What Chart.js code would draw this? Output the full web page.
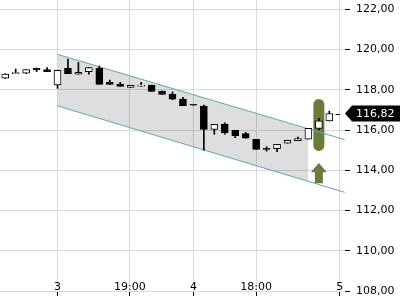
<!DOCTYPE html>
<html>
<head>
<meta charset="utf-8">
<script src="https://cdn.jsdelivr.net/npm/chart.js@4.4.0/dist/chart.umd.min.js"></script>
<style>
  html, body { margin: 0; padding: 0; background: #fff; }
  #wrap { width: 400px; height: 300px; }
</style>
</head>
<body>
<div id="wrap"><canvas id="chart"></canvas></div>
<script>
// ===============================
// Dados (velas horárias)
// ===============================
const opens  = [118.58, 118.80, 118.82, 119.07, 119.00, 118.24, 119.07, 118.77, 118.90, 119.07,
                118.37, 118.28, 118.12, 118.18, 118.23, 117.94, 117.79, 117.54, 117.25, 117.19,
                116.03, 116.30, 115.98, 115.82, 115.54, 115.06, 115.07, 115.34, 115.47, 115.55,
                116.08, 116.45];
const highs  = [118.80, 119.03, 119.00, 119.08, 119.10, 118.97, 119.53, 119.36, 119.10, 119.18,
                118.48, 118.37, 118.22, 118.37, 118.23, 117.94, 117.89, 117.62, 117.25, 117.24,
                116.28, 116.36, 115.98, 115.88, 115.54, 115.17, 115.29, 115.49, 115.65, 116.08,
                116.58, 116.94];
const lows   = [118.55, 118.80, 118.80, 118.90, 118.90, 118.07, 118.80, 118.77, 118.78, 118.27,
                118.27, 118.17, 118.12, 118.16, 117.92, 117.77, 117.50, 117.21, 117.23, 115.00,
                115.79, 115.79, 115.62, 115.59, 115.04, 114.95, 114.92, 115.34, 115.47, 115.55,
                116.00, 116.45];
const closes = [118.78, 118.84, 119.00, 118.99, 118.90, 118.97, 118.80, 118.87, 119.10, 118.27,
                118.27, 118.17, 118.22, 118.20, 117.92, 117.77, 117.53, 117.21, 117.23, 116.03,
                116.28, 115.86, 115.72, 115.59, 115.04, 115.04, 115.29, 115.49, 115.57, 116.08,
                116.45, 116.82];

// eixo x (posição em velas) e eixo y
const xTickPos    = [5, 11.93, 18, 24, 32];
const xTickLabels = ["3", "19:00", "4", "18:00", "5"];
const yTicks      = [108, 110, 112, 114, 116, 118, 120, 122];

// canal de tendência
const channelX     = [5, 32.48];
const channelUpper = [119.76, 115.52];
const channelLower = [117.20, 112.90];
const shadeX       = [5, 29];
const shadeUpper   = [119.76, 116.05];
const shadeLower   = [117.20, 113.44];

// sinal / último preço
const lastPrice   = 116.82;
const signalX     = 30;
const pillTop     = 117.54;
const pillBottom  = 114.96;
const arrowTop    = 114.36;
const arrowNeck   = 113.90;
const arrowBottom = 113.36;

const fmt = v => v.toFixed(2).replace(".", ",");

// ===============================
// Plugin: marcações extras
// ===============================
const overlayPlugin = {
  id: "overlay",
  beforeDatasetsDraw(chart) {
    const { ctx } = chart;
    const x = chart.scales.x, y = chart.scales.y;
    const cx = x.getPixelForValue(signalX);

    // pílula verde
    const top = y.getPixelForValue(pillTop);
    const bot = y.getPixelForValue(pillBottom);
    ctx.save();
    ctx.fillStyle = "#6a7b3b";
    ctx.beginPath();
    ctx.roundRect(cx - 5.5, top, 11, bot - top, 5.5);
    ctx.fill();

    // seta para cima
    const aTop = y.getPixelForValue(arrowTop);
    const aNeck = y.getPixelForValue(arrowNeck);
    const aBot = y.getPixelForValue(arrowBottom);
    ctx.beginPath();
    ctx.moveTo(cx, aTop);
    ctx.lineTo(cx + 8, aNeck);
    ctx.lineTo(cx + 4, aNeck);
    ctx.lineTo(cx + 4, aBot);
    ctx.lineTo(cx - 4, aBot);
    ctx.lineTo(cx - 4, aNeck);
    ctx.lineTo(cx - 8, aNeck);
    ctx.closePath();
    ctx.fill();
    ctx.restore();
  },
  afterDraw(chart) {
    const { ctx, chartArea } = chart;
    const x = chart.scales.x, y = chart.scales.y;
    const py = y.getPixelForValue(lastPrice);
    const left = chartArea.right;
    ctx.save();
    // traço do último preço
    ctx.strokeStyle = "#000";
    ctx.lineWidth = 1;
    ctx.beginPath();
    ctx.moveTo(x.getPixelForValue(closes.length - 0.4), Math.round(py) + 0.5);
    ctx.lineTo(x.getPixelForValue(closes.length), Math.round(py) + 0.5);
    ctx.stroke();
    // etiqueta
    ctx.fillStyle = "#000";
    ctx.beginPath();
    ctx.moveTo(left, py);
    ctx.lineTo(left + 7, py - 8);
    ctx.lineTo(chart.width, py - 8);
    ctx.lineTo(chart.width, py + 8);
    ctx.lineTo(left + 7, py + 8);
    ctx.closePath();
    ctx.fill();
    ctx.fillStyle = "#fff";
    ctx.font = "11px 'DejaVu Sans'";
    ctx.textBaseline = "middle";
    ctx.textAlign = "left";
    ctx.fillText(fmt(lastPrice), left + 11, py + 0.5);
    ctx.restore();
  }
};

// ===============================
// Gráfico
// ===============================
Chart.defaults.font.family = "'DejaVu Sans', sans-serif";
Chart.defaults.font.size = 11;
Chart.defaults.color = "#000";

const bodyColors = opens.map((o, i) => (closes[i] >= o ? "#fff" : "#000"));

new Chart(document.getElementById("chart"), {
  type: "bar",
  data: {
    datasets: [
      {
        label: "corpo",
        data: opens.map((o, i) => ({ x: i, y: [o, closes[i]] })),
        backgroundColor: bodyColors,
        borderColor: "#000",
        borderWidth: 1,
        borderSkipped: false,
        barThickness: 7,
        minBarLength: 1,
        grouped: false,
        order: 0
      },
      {
        label: "pavio",
        data: lows.map((l, i) => ({ x: i, y: [l, highs[i]] })),
        backgroundColor: "#000",
        borderWidth: 0,
        barThickness: 1,
        grouped: false,
        order: 1
      },
      {
        type: "line",
        label: "canal sup",
        data: channelX.map((v, i) => ({ x: v, y: channelUpper[i] })),
        borderColor: "#5fa7ab",
        borderWidth: 1,
        pointRadius: 0,
        fill: false,
        order: 2
      },
      {
        type: "line",
        label: "canal inf",
        data: channelX.map((v, i) => ({ x: v, y: channelLower[i] })),
        borderColor: "#5fa7ab",
        borderWidth: 1,
        pointRadius: 0,
        fill: false,
        order: 2
      },
      {
        type: "line",
        label: "sombra sup",
        data: shadeX.map((v, i) => ({ x: v, y: shadeUpper[i] })),
        borderWidth: 0,
        pointRadius: 0,
        backgroundColor: "rgba(0,0,0,0.13)",
        fill: "+1",
        order: 3
      },
      {
        type: "line",
        label: "sombra inf",
        data: shadeX.map((v, i) => ({ x: v, y: shadeLower[i] })),
        borderWidth: 0,
        pointRadius: 0,
        fill: false,
        order: 4
      }
    ]
  },
  options: {
    responsive: true,
    maintainAspectRatio: false,
    animation: false,
    layout: { padding: 0 },
    plugins: {
      legend: { display: false },
      tooltip: { enabled: false }
    },
    scales: {
      x: {
        type: "linear",
        min: -0.5,
        max: 32.5,
        offset: false,
        grid: { offset: false, color: "#dadada", tickColor: "#000", tickLength: 5 },
        border: { display: false },
        ticks: {
          autoSkip: false,
          maxRotation: 0,
          mirror: true,
          padding: -3,
          callback: v => {
            const k = xTickPos.indexOf(v);
            return k >= 0 ? xTickLabels[k] : "";
          }
        },
        afterBuildTicks: s => { s.ticks = xTickPos.map(v => ({ value: v })); },
        afterFit: s => { s.height = 9; s.paddingLeft = 0; s.paddingRight = 0; }
      },
      y: {
        position: "right",
        min: 108,
        max: 122.46,
        grid: { color: "#dadada", tickColor: "#000", tickLength: 5 },
        border: { display: false },
        ticks: { padding: 6, callback: v => fmt(v) },
        afterBuildTicks: s => { s.ticks = yTicks.map(v => ({ value: v })); },
        afterFit: s => { s.width = 55; s.paddingTop = 0; s.paddingBottom = 0; }
      }
    }
  },
  plugins: [overlayPlugin]
});
</script>
</body>
</html>
